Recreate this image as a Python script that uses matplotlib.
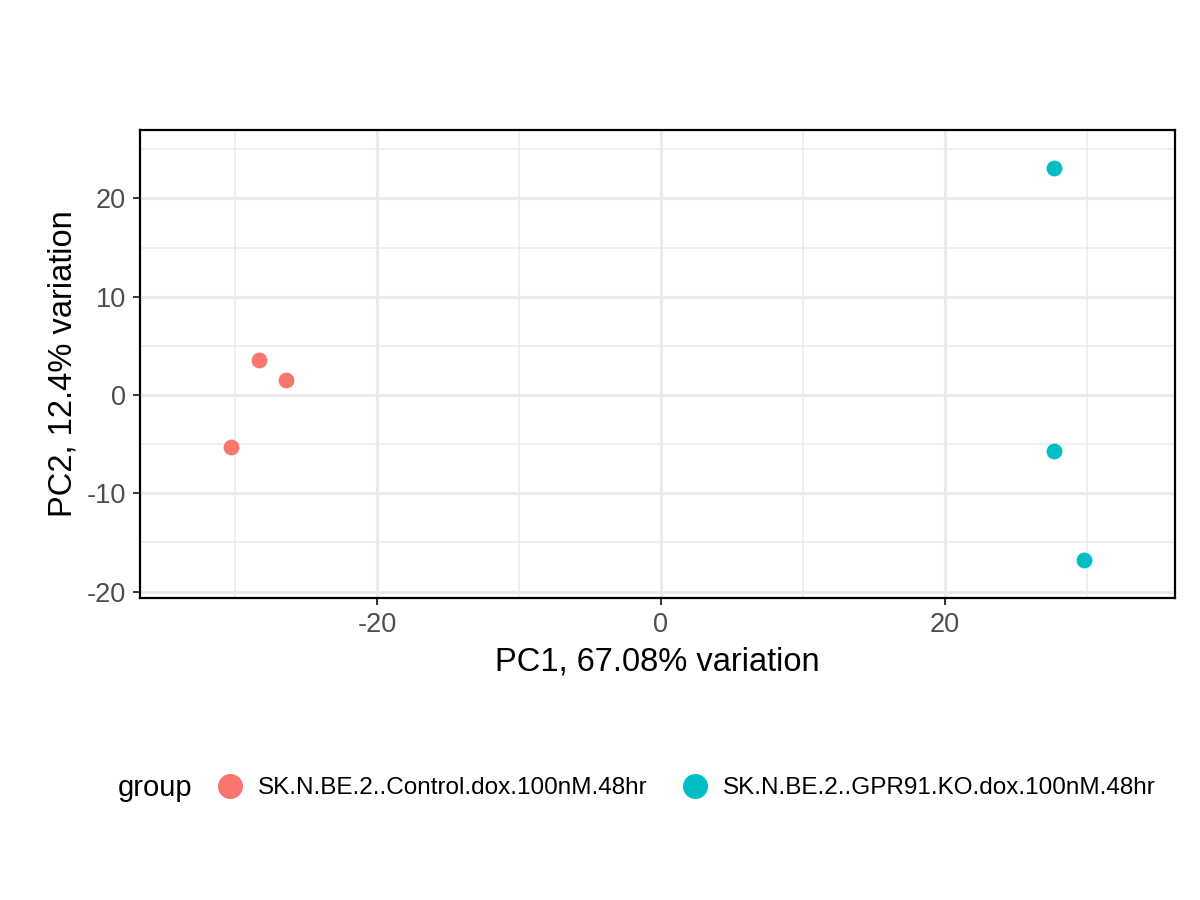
import matplotlib
matplotlib.use("Agg")
from matplotlib import pyplot as plt
from matplotlib.lines import Line2D
import numpy as np

groups = ["SK.N.BE.2..Control.dox.100nM.48hr", "SK.N.BE.2..GPR91.KO.dox.100nM.48hr"]
colors = ["#F8766D", "#00BFC4"]
pc1 = [[-30.3, -28.3, -26.4], [27.7, 27.7, 29.8]]
pc2 = [[-5.3, 3.6, 1.5], [23.1, -5.7, -16.8]]

plt.rcParams['font.family'] = ['Liberation Sans', 'DejaVu Sans']
plt.rcParams['axes.unicode_minus'] = False
fig = plt.figure(figsize=(12, 9), dpi=100)
ax = fig.add_axes([0.1167, 0.3356, 0.8623, 0.52])

for xs, ys, c in zip(pc1, pc2, colors):
    ax.scatter(xs, ys, s=130, color=c, zorder=3, linewidths=0)

ax.set_xlim(-36.7, 36.2)
ax.set_ylim(-20.65, 26.96)
ax.set_xticks([-20, 0, 20])
ax.set_xticks([-30, -10, 10, 30], minor=True)
ax.set_yticks([-20, -10, 0, 10, 20])
ax.set_yticks([-15, -5, 5, 15, 25], minor=True)
ax.grid(which='major', color='#EBEBEB', linewidth=2.2, zorder=0)
ax.grid(which='minor', color='#EBEBEB', linewidth=1.1, zorder=0)
ax.set_axisbelow(True)
for s in ax.spines.values():
    s.set_linewidth(1.6)
    s.set_color('black')
ax.tick_params(which='major', labelsize=19.5, labelcolor='#4D4D4D', length=5, width=1.1, pad=5)
ax.tick_params(which='minor', length=0)
ax.set_xlabel("PC1, 67.08% variation", fontsize=23.5, labelpad=6)
ax.set_ylabel("PC2, 12.4% variation", fontsize=23.5, labelpad=6)

fig.text(118 / 1200, 1 - 788 / 900, "group", fontsize=21, va='center', ha='left')
handles = [Line2D([], [], marker='o', linestyle='', markersize=17, color=c) for c in colors]
fig.legend(handles, groups, loc='center left', bbox_to_anchor=(212 / 1200, 1 - 788 / 900),
           ncol=2, frameon=False, fontsize=17.5, handletextpad=0.4, columnspacing=1.2,
           handlelength=1.5, borderaxespad=0, borderpad=0)

fig.savefig("out.png", dpi=100)
